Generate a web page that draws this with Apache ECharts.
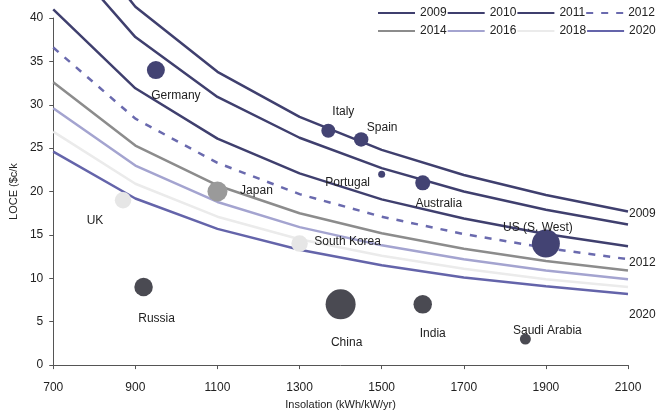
<!DOCTYPE html>
<html>
<head>
<meta charset="utf-8">
<script src="https://cdn.jsdelivr.net/npm/echarts@6/dist/echarts.min.js"></script>
<style>
html,body{margin:0;padding:0;background:#fff;}
#chart{width:660px;height:415px;}
</style>
</head>
<body>
<div id="chart"></div>
<script>
// ---- data ----
const insolationTicks = [700, 900, 1100, 1300, 1500, 1700, 1900, 2100];
const years = ['2009', '2010', '2011', '2012', '2014', '2016', '2018', '2020'];
const lcoe2009 = [53.1, 41.3, 33.8, 28.6, 24.8, 21.9, 19.6, 17.7];
const lcoe2010 = [48.6, 37.8, 30.9, 26.2, 22.7, 20.0, 17.9, 16.2];
const lcoe2011 = [41.0, 31.9, 26.1, 22.1, 19.1, 16.9, 15.1, 13.7];
const lcoe2012 = [36.6, 28.4, 23.3, 19.7, 17.1, 15.1, 13.5, 12.2];
const lcoe2014 = [32.6, 25.3, 20.7, 17.5, 15.2, 13.4, 12.0, 10.9];
const lcoe2016 = [29.6, 23.0, 18.8, 15.9, 13.8, 12.2, 10.9, 9.9];
const lcoe2018 = [26.9, 20.9, 17.1, 14.5, 12.6, 11.1, 9.9, 9.0];
const lcoe2020 = [24.6, 19.2, 15.7, 13.3, 11.5, 10.1, 9.1, 8.2];

const countries = ['Germany', 'Italy', 'Spain', 'Portugal', 'Australia', 'US (S. West)', 'Japan', 'UK', 'South Korea', 'Russia', 'China', 'India', 'Saudi Arabia'];
const countryInsolation = [950, 1370, 1450, 1500, 1600, 1900, 1100, 870, 1300, 920, 1400, 1600, 1850];
const countryLcoe = [34, 27, 26, 22, 21, 14, 20, 19, 14, 9, 7, 7, 3];
const countrySize = [18, 14, 14.5, 7, 15, 28, 20, 16.5, 16.5, 18.5, 30, 18.5, 11];
const countryGroup = ['a', 'a', 'a', 'a', 'a', 'a', 'b', 'c', 'c', 'd', 'd', 'd', 'd'];

// ---- styles ----
const FONT = "'Liberation Sans', Arial, sans-serif";
const TXT = '#222222';
const FS = 12;
const yearStyle = {
  '2009': { color: '#3f3f6e', type: 'solid' },
  '2010': { color: '#3f3f6e', type: 'solid' },
  '2011': { color: '#3f3f6e', type: 'solid' },
  '2012': { color: '#6a6aae', type: [7, 8] },
  '2014': { color: '#8c8c8c', type: 'solid' },
  '2016': { color: '#a4a4d0', type: 'solid' },
  '2018': { color: '#ebebeb', type: 'solid' },
  '2020': { color: '#6464aa', type: 'solid' }
};
const endLabelOffset = { '2009': [0, 2], '2012': [0, 3], '2020': [0, 21] };
const groupColor = { a: '#434373', b: '#9a9a9a', c: '#e6e6e6', d: '#4a4a52' };
const labelOffset = {
  'Germany': [20, 26], 'Italy': [15, -19], 'Spain': [21, -12], 'Portugal': [-34, 8],
  'Australia': [16, 21], 'US (S. West)': [-8, -16], 'Japan': [39, -1], 'UK': [-28, 20],
  'South Korea': [48, -2], 'Russia': [13, 32], 'China': [6, 38], 'India': [10, 29],
  'Saudi Arabia': [22, -8]
};

const yearData = [lcoe2009, lcoe2010, lcoe2011, lcoe2012, lcoe2014, lcoe2016, lcoe2018, lcoe2020];

const series = years.map((y, i) => ({
  name: y,
  type: 'line',
  data: insolationTicks.map((x, j) => [x, yearData[i][j]]),
  symbol: 'none',
  smooth: false,
  clip: false,
  z: 2,
  lineStyle: { width: 2.5, color: yearStyle[y].color, type: yearStyle[y].type },
  itemStyle: { color: yearStyle[y].color },
  endLabel: endLabelOffset[y] ? {
    show: true, formatter: y, distance: 1, offset: endLabelOffset[y],
    color: TXT, fontFamily: FONT, fontSize: FS
  } : { show: false },
  emphasis: { disabled: true }
}));

['a', 'b', 'c', 'd'].forEach(g => {
  const data = [];
  countries.forEach((c, i) => {
    if (countryGroup[i] !== g) return;
    data.push({
      name: c,
      value: [countryInsolation[i], countryLcoe[i], countrySize[i]],
      label: { offset: labelOffset[c] }
    });
  });
  series.push({
    type: 'scatter',
    data: data,
    z: 3,
    symbolSize: v => v[2],
    itemStyle: { color: groupColor[g], opacity: 1 },
    label: {
      show: true, position: 'inside', formatter: p => p.name,
      color: TXT, fontFamily: FONT, fontSize: FS
    },
    emphasis: { disabled: true }
  });
});

const chart = echarts.init(document.getElementById('chart'), null, { renderer: 'canvas' });
chart.setOption({
  animation: false,
  backgroundColor: '#ffffff',
  textStyle: { fontFamily: FONT },
  grid: { left: 53, right: 32, top: 18, bottom: 47 },
  legend: {
    data: years,
    left: 377, top: 4, width: 300, padding: 0,
    itemWidth: 37, itemHeight: 14, itemGap: 0,
    itemStyle: { opacity: 0 },
    textStyle: { color: TXT, fontFamily: FONT, fontSize: FS, lineHeight: 18 }
  },
  xAxis: {
    type: 'value', min: 700, max: 2100, interval: 200,
    name: 'Insolation (kWh/kW/yr)', nameLocation: 'middle', nameGap: 26,
    nameTextStyle: { color: TXT, fontFamily: FONT, fontSize: 11 },
    axisLine: { show: true, lineStyle: { color: '#555', width: 1 } },
    axisTick: { show: true, length: 4, lineStyle: { color: '#555' } },
    axisLabel: { color: TXT, fontFamily: FONT, fontSize: FS, margin: 17, formatter: v => String(v) },
    splitLine: { show: false }
  },
  yAxis: {
    type: 'value', min: 0, max: 40, interval: 5,
    name: 'LOCE ($c/k', nameLocation: 'middle', nameGap: 33,
    nameTextStyle: { color: TXT, fontFamily: FONT, fontSize: 11 },
    axisLine: { show: true, lineStyle: { color: '#555', width: 1 } },
    axisTick: { show: true, length: 4, lineStyle: { color: '#555' } },
    axisLabel: { color: TXT, fontFamily: FONT, fontSize: FS, margin: 10 },
    splitLine: { show: false }
  },
  series: series
});
</script>
</body>
</html>
